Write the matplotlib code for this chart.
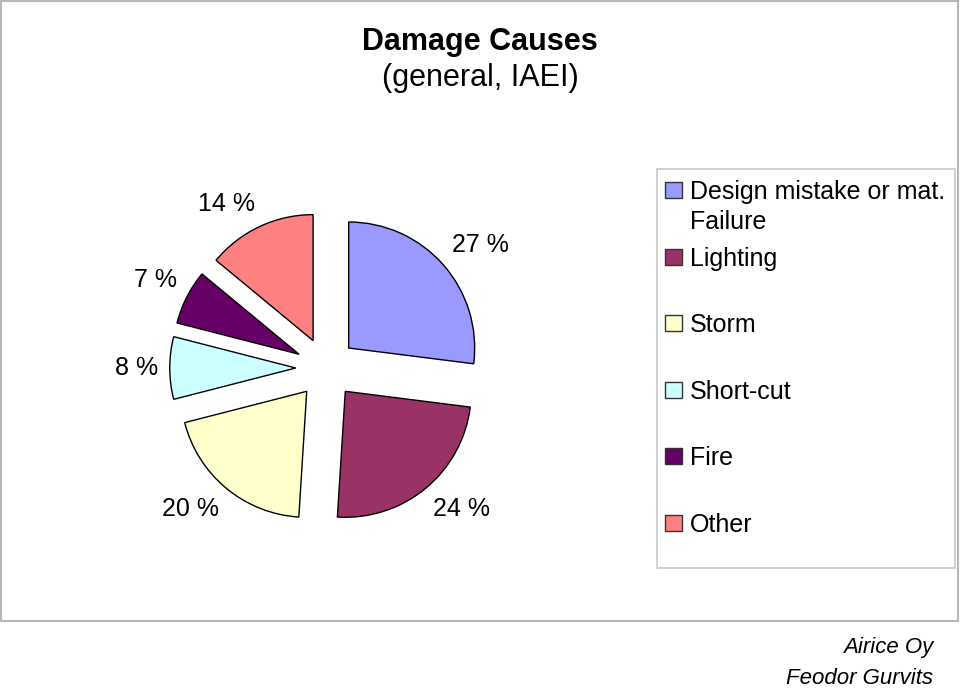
import matplotlib
matplotlib.use('Agg')
import matplotlib.pyplot as plt
import numpy as np
from matplotlib.patches import Rectangle

# Data
causes = ['Design mistake or mat.\nFailure', 'Lighting', 'Storm', 'Short-cut', 'Fire', 'Other']
shares = [27, 24, 20, 8, 7, 14]
colors = ['#9999FF', '#993366', '#FFFFCC', '#CCFFFF', '#660066', '#FF8080']

W, H = 960, 691
fig = plt.figure(figsize=(W / 100, H / 100), dpi=100)
plt.rcParams['font.family'] = ['Liberation Sans', 'DejaVu Sans']


def px(x, y):
    # pixel coords (top-left origin) -> figure fraction
    return x / W, 1 - y / H


# Chart frame
fig.patches.append(Rectangle(px(1, 621), 957 / W, 620 / H, transform=fig.transFigure,
                             fill=False, edgecolor='#b8b8b8', linewidth=1.5))

# Title
fig.text(*px(480, 42), 'Damage Causes', ha='center', va='center', fontsize=22, fontweight='bold')
fig.text(*px(480, 78), '(general, IAEI)', ha='center', va='center', fontsize=22)

# Pie: centre ~ (326, 368) px, radius ~126 px
cx, cy, R, half = 326, 368, 126, 250
ax = fig.add_axes([(cx - half) / W, (H - cy - half) / H, 2 * half / W, 2 * half / H])
wedges, texts = ax.pie(
    shares, colors=colors, startangle=90, counterclock=False,
    explode=[0.24] * len(shares),
    labels=[f'{v} %' for v in shares], labeldistance=1.09,
    wedgeprops=dict(edgecolor='black', linewidth=1),
    textprops=dict(fontsize=18))
# Excel-like placement: labels sit next to the slice edge
for w, t in zip(wedges, texts):
    s = np.sin(np.deg2rad((w.theta1 + w.theta2) / 2))
    t.set_va('bottom' if s > 0.2 else ('top' if s < -0.2 else 'center'))
ax.set_xlim(-half / R, half / R)
ax.set_ylim(-half / R, half / R)
ax.axis('off')

# Legend (drawn by hand to mimic the Excel layout)
fig.patches.append(Rectangle(px(657, 568), 298 / W, 399 / H, transform=fig.transFigure,
                             fill=False, edgecolor='#c8c8c8', linewidth=1.2))
for i, (lab, col) in enumerate(zip(causes, colors)):
    yc = 190 + i * 66.6
    fig.patches.append(Rectangle(px(665, yc + 8), 17 / W, 16 / H, transform=fig.transFigure,
                                 facecolor=col, edgecolor='#333333', linewidth=1))
    for k, line in enumerate(lab.split('\n')):
        fig.text(*px(690, yc + 9 + k * 30), line, ha='left', va='baseline', fontsize=18)

# Footer
foot = dict(ha='right', va='center', fontsize=16, fontstyle='italic')
fig.text(*px(933, 648), 'Airice Oy', **foot)
fig.text(*px(933, 679), 'Feodor Gurvits', **foot)

fig.savefig('out.png', dpi=100, facecolor='white')
